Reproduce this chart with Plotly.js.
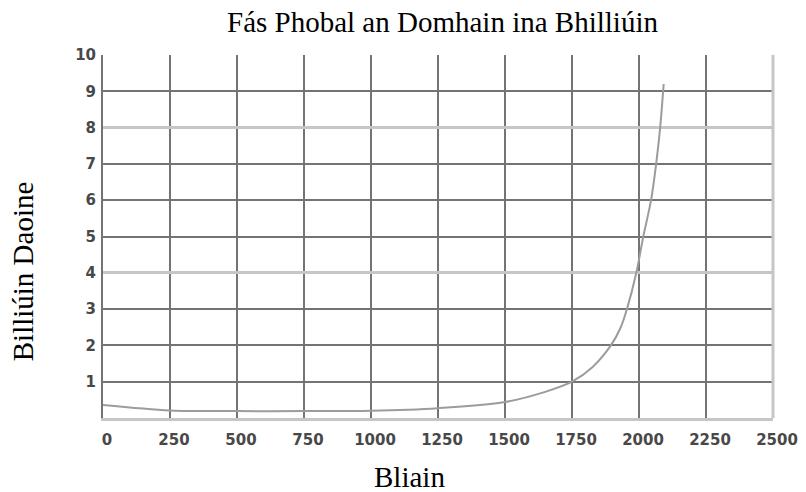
<!DOCTYPE html>
<html>
<head>
<meta charset="utf-8">
<script src="https://cdn.plot.ly/plotly-3.0.1.min.js"></script>
<style>html,body{margin:0;padding:0;background:#fff;}#chart{width:806px;height:492px;}</style>
</head>
<body>
<div id="chart"></div>
<script>
// Years and world population (billions)
const years = [0, 250, 500, 750, 1000, 1250, 1500, 1650, 1750, 1826, 1895, 1932, 1955, 1990, 2016, 2045, 2064, 2079, 2092];
const population = [0.36, 0.21, 0.19, 0.19, 0.2, 0.27, 0.44, 0.72, 1.0, 1.4, 2.0, 2.5, 3.0, 4.0, 5.0, 6.0, 7.0, 8.0, 9.2];
const xTicks = [0, 250, 500, 750, 1000, 1250, 1500, 1750, 2000, 2250, 2500];
const xTickLabels = ['0', '250', '500', '750', '1000', '1250', '1500', '1750', '2000', '2250', '2500'];
const yTicks = [1, 2, 3, 4, 5, 6, 7, 8, 9, 10];
const yTickLabels = ['1', '2', '3', '4', '5', '6', '7', '8', '9', '10'];
const darkGridY = [1, 2, 3, 5, 6, 7, 9, 10];
const lightGridY = [4, 8];
const titleText = 'Fás Phobal an Domhain ina Bhilliúin';
const xTitleText = 'Bliain';
const yTitleText = 'Billiúin Daoine';

const tickFont = {family: 'DejaVu Sans', size: 15, color: '#484848', weight: 'bold'};
const serif = 'Liberation Serif, Times New Roman, serif';
const darkGrid = '#747474';
const lightGrid = '#c6c6c6';

Plotly.newPlot('chart', [
  {x: years, y: population, type: 'scatter', mode: 'lines',
   line: {color: '#9c9c9c', width: 2, shape: 'spline', smoothing: 0.9}, hoverinfo: 'skip'},
  {x: years, y: population, type: 'scatter', mode: 'lines', yaxis: 'y2',
   line: {width: 0}, opacity: 0, hoverinfo: 'skip'},
  {x: years, y: population, type: 'scatter', mode: 'lines', yaxis: 'y3',
   line: {width: 0}, opacity: 0, hoverinfo: 'skip'}
], {
  width: 806, height: 492,
  margin: {l: 103, r: 33, t: 55, b: 74},
  paper_bgcolor: '#ffffff', plot_bgcolor: '#ffffff',
  showlegend: false,
  title: {text: titleText, font: {family: serif, size: 29, color: '#000'},
          x: 0.549, xanchor: 'center', y: 0.955, yanchor: 'middle'},
  xaxis: {
    range: [0, 2500], tickvals: xTicks, ticktext: xTickLabels, tickfont: tickFont,
    showgrid: true, gridcolor: darkGrid, gridwidth: 2, zeroline: false,
    showline: true, linecolor: lightGrid, linewidth: 3, ticks: '', ticklabelstandoff: 6,
    ticklabelshift: 4, automargin: false,
    fixedrange: true
  },
  yaxis: {
    range: [0, 10], tickvals: yTicks, ticktext: yTickLabels, tickfont: tickFont,
    showgrid: false, zeroline: false, automargin: false,
    showline: true, linecolor: darkGrid, linewidth: 2, ticks: '', ticklabelstandoff: 2,
    fixedrange: true
  },
  yaxis2: {
    overlaying: 'y', range: [0, 10], tickvals: darkGridY, showticklabels: false,
    showgrid: true, gridcolor: darkGrid, gridwidth: 2, zeroline: false, showline: false, ticks: '',
    fixedrange: true
  },
  yaxis3: {
    overlaying: 'y', range: [0, 10], tickvals: lightGridY, showticklabels: false,
    showgrid: true, gridcolor: lightGrid, gridwidth: 3, zeroline: false, showline: false, ticks: '',
    fixedrange: true
  },
  annotations: [
    {text: xTitleText, xref: 'paper', yref: 'paper', x: 0.458, y: -0.163, xanchor: 'center', yanchor: 'middle',
     showarrow: false, font: {family: serif, size: 29, color: '#000'}},
    {text: yTitleText, xref: 'paper', yref: 'paper', x: -0.119, y: 0.405, xanchor: 'center', yanchor: 'middle',
     textangle: -90, showarrow: false, font: {family: serif, size: 29, color: '#000'}}
  ],
  shapes: [{type: 'line', xref: 'paper', x0: 1, x1: 1, yref: 'paper', y0: 0, y1: 1,
            line: {color: lightGrid, width: 3}, layer: 'above'}]
}, {displayModeBar: false, staticPlot: true});
</script>
</body>
</html>
